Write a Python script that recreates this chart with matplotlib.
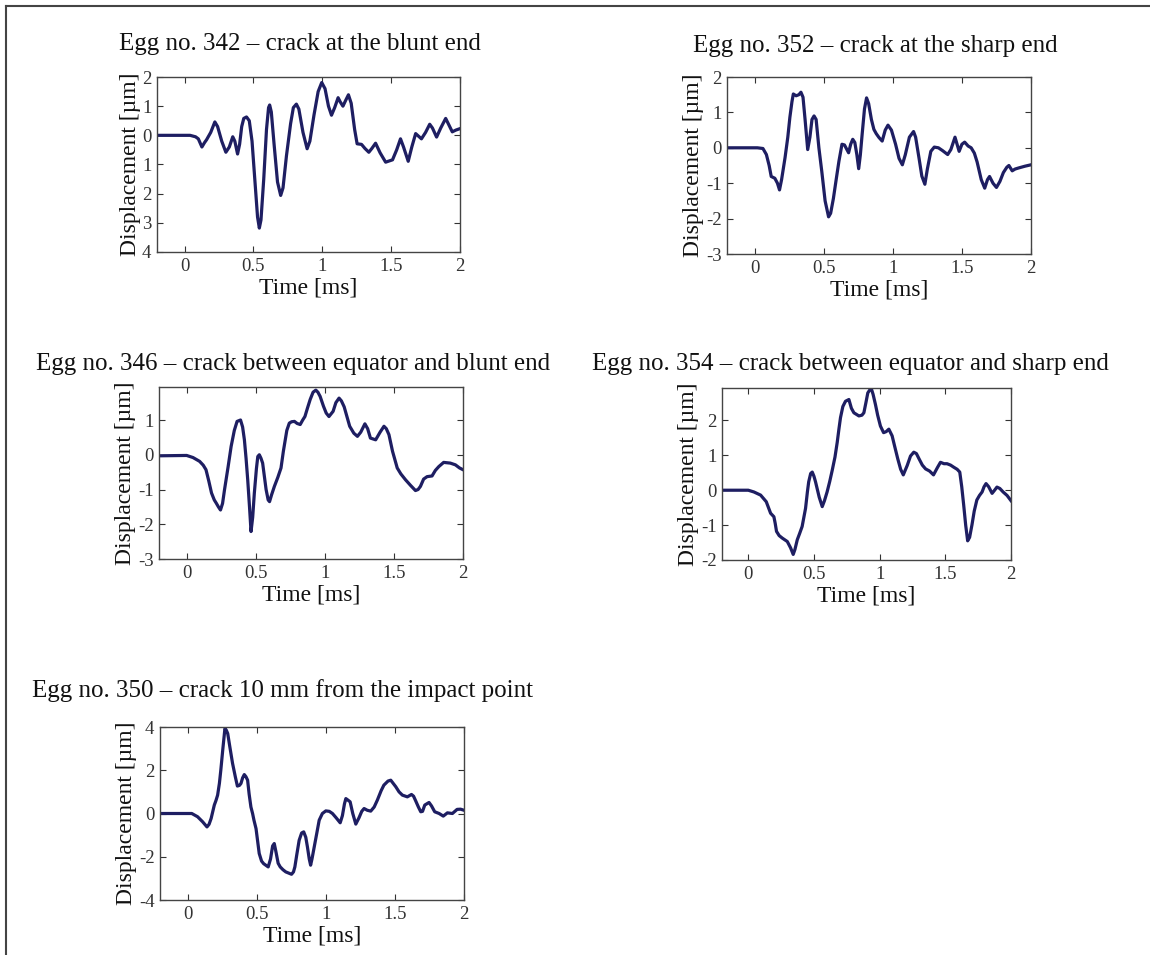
import matplotlib
matplotlib.use("Agg")
import matplotlib.pyplot as plt
from matplotlib.lines import Line2D

plt.rcParams['font.family'] = ['Liberation Serif', 'DejaVu Serif']

# ---------------- data ----------------
t342 = [-0.2, 0.04, 0.08, 0.10, 0.126, 0.145, 0.16, 0.19, 0.22, 0.24, 0.27, 0.30,
        0.325, 0.35, 0.365, 0.385, 0.40, 0.415, 0.43, 0.45, 0.47, 0.49, 0.51, 0.53,
        0.543, 0.555, 0.575, 0.595, 0.61, 0.618, 0.63, 0.65, 0.675, 0.698, 0.715,
        0.74, 0.77, 0.79, 0.812, 0.83, 0.86, 0.89, 0.91, 0.94, 0.97, 0.996, 1.02,
        1.045, 1.067, 1.09, 1.115, 1.13, 1.15, 1.17, 1.19, 1.21, 1.235, 1.253,
        1.285, 1.31, 1.338, 1.36, 1.387, 1.42, 1.46, 1.51, 1.54, 1.568, 1.59,
        1.624, 1.65, 1.678, 1.72, 1.75, 1.78, 1.80, 1.83, 1.86, 1.896, 1.92,
        1.944, 1.97, 2.0]
d342 = [0.0, 0.0, -0.05, -0.12, -0.4, -0.25, -0.15, 0.1, 0.46, 0.3, -0.2, -0.58,
        -0.4, -0.05, -0.2, -0.64, -0.3, 0.3, 0.58, 0.63, 0.5, -0.2, -1.5, -2.8,
        -3.18, -2.9, -1.5, 0.2, 0.95, 1.04, 0.8, -0.3, -1.6, -2.06, -1.8,
        -0.7, 0.4, 0.95, 1.07, 0.9, 0.1, -0.46, -0.2, 0.7, 1.5, 1.81, 1.6,
        1.0, 0.69, 0.95, 1.29, 1.15, 1.0, 1.2, 1.39, 1.1, 0.2, -0.29,
        -0.31, -0.45, -0.58, -0.45, -0.27, -0.6, -0.92, -0.84, -0.5, -0.12, -0.4,
        -0.89, -0.4, 0.06, -0.12, 0.1, 0.38, 0.25, -0.06, 0.25, 0.58, 0.35,
        0.12, 0.18, 0.23]

t352 = [-0.2, 0.02, 0.06, 0.085, 0.105, 0.12, 0.146, 0.165, 0.18, 0.195, 0.22,
        0.24, 0.255, 0.27, 0.28, 0.30, 0.32, 0.335, 0.35, 0.365, 0.384, 0.40,
        0.415, 0.43, 0.445, 0.465, 0.486, 0.51, 0.535, 0.55, 0.57, 0.59, 0.61,
        0.632, 0.65, 0.68, 0.695, 0.71, 0.725, 0.74, 0.753, 0.765, 0.778, 0.795,
        0.81, 0.825, 0.845, 0.863, 0.88, 0.90, 0.923, 0.945, 0.965, 0.99, 1.02,
        1.045, 1.069, 1.09, 1.12, 1.15, 1.165, 1.19, 1.21, 1.232, 1.25, 1.275,
        1.30, 1.33, 1.36, 1.397, 1.42, 1.45, 1.465, 1.48, 1.50, 1.52, 1.545,
        1.567, 1.59, 1.61, 1.64, 1.665, 1.685, 1.70, 1.725, 1.75, 1.775, 1.80,
        1.825, 1.84, 1.864, 1.885, 1.91, 1.956, 2.0]
d352 = [0.0, 0.0, -0.02, -0.19, -0.5, -0.81, -0.86, -1.0, -1.19, -0.9, -0.28,
        0.3, 0.86, 1.3, 1.52, 1.47, 1.5, 1.57, 1.43, 0.8, -0.05, 0.3,
        0.8, 0.90, 0.8, 0.0, -0.67, -1.5, -1.95, -1.85, -1.43, -0.9, -0.38,
        0.10, 0.08, -0.14, 0.1, 0.24, 0.15, -0.2, -0.59, -0.2, 0.38, 1.1,
        1.41, 1.25, 0.8, 0.52, 0.4, 0.29, 0.19, 0.5, 0.64, 0.5, 0.1,
        -0.3, -0.48, -0.2, 0.3, 0.46, 0.3, -0.3, -0.8, -1.03, -0.6, -0.1,
        0.02, 0.0, -0.08, -0.19, -0.05, 0.30, 0.1, -0.1, 0.1, 0.16, 0.05,
        0.0, -0.15, -0.4, -0.9, -1.14, -0.9, -0.81, -1.0, -1.12, -0.95, -0.7,
        -0.55, -0.5, -0.65, -0.6, -0.57, -0.52, -0.48]

t346 = [-0.2, 0.0, 0.046, 0.094, 0.12, 0.14, 0.16, 0.18, 0.20, 0.214, 0.23, 0.245,
        0.26, 0.274, 0.30, 0.322, 0.345, 0.365, 0.39, 0.405, 0.418, 0.43, 0.442,
        0.455, 0.466, 0.478, 0.49, 0.505, 0.515, 0.526, 0.538, 0.55, 0.575, 0.59,
        0.60, 0.615, 0.635, 0.66, 0.683, 0.70, 0.71, 0.725, 0.743, 0.76, 0.78,
        0.80, 0.822, 0.84, 0.856, 0.875, 0.894, 0.915, 0.935, 0.95, 0.966, 0.99,
        1.01, 1.03, 1.06, 1.08, 1.103, 1.12, 1.14, 1.16, 1.18, 1.21, 1.236, 1.26,
        1.29, 1.31, 1.33, 1.368, 1.40, 1.428, 1.445, 1.464, 1.49, 1.524, 1.55,
        1.584, 1.62, 1.656, 1.675, 1.692, 1.715, 1.74, 1.776, 1.80, 1.825, 1.86,
        1.908, 1.945, 1.975, 2.0]
d346 = [-0.03, -0.02, -0.08, -0.19, -0.3, -0.43, -0.75, -1.10, -1.3, -1.39, -1.5,
        -1.59, -1.4, -1.01, -0.35, 0.24, 0.7, 0.96, 1.0, 0.8, 0.43, -0.1, -0.72,
        -1.5, -2.21, -1.8, -1.10, -0.4, -0.05, 0.0, -0.1, -0.24, -1.0, -1.3,
        -1.35, -1.15, -0.91, -0.65, -0.38, 0.1, 0.34, 0.7, 0.91, 0.95, 0.96,
        0.9, 0.87, 1.0, 1.10, 1.35, 1.59, 1.8, 1.86, 1.8, 1.68, 1.4,
        1.2, 1.10, 1.25, 1.5, 1.63, 1.55, 1.38, 1.1, 0.82, 0.62, 0.53, 0.65,
        0.89, 0.75, 0.48, 0.43, 0.65, 0.82, 0.75, 0.58, 0.1, -0.38, -0.55,
        -0.72, -0.88, -1.03, -1.0, -0.91, -0.7, -0.63, -0.61, -0.45, -0.34, -0.22,
        -0.24, -0.29, -0.38, -0.43]

t354 = [-0.2, 0.0, 0.043, 0.094, 0.137, 0.17, 0.195, 0.205, 0.215, 0.235, 0.258,
        0.297, 0.322, 0.342, 0.355, 0.373, 0.39, 0.41, 0.436, 0.45, 0.46, 0.475,
        0.487, 0.50, 0.512, 0.54, 0.563, 0.58, 0.60, 0.62, 0.639, 0.66, 0.677,
        0.69, 0.702, 0.72, 0.74, 0.766, 0.785, 0.804, 0.842, 0.865, 0.88, 0.895,
        0.91, 0.935, 0.95, 0.968, 0.985, 1.006, 1.03, 1.05, 1.07, 1.095, 1.115,
        1.138, 1.16, 1.18, 1.21, 1.235, 1.26, 1.28, 1.30, 1.325, 1.35, 1.38,
        1.41, 1.44, 1.463, 1.49, 1.513, 1.54, 1.564, 1.59, 1.61, 1.625, 1.64,
        1.655, 1.67, 1.685, 1.703, 1.72, 1.74, 1.76, 1.78, 1.795, 1.81, 1.83,
        1.856, 1.875, 1.893, 1.915, 1.94, 1.97, 2.0]
d354 = [0.0, 0.0, -0.05, -0.14, -0.33, -0.66, -0.76, -0.95, -1.18, -1.3, -1.37,
        -1.47, -1.65, -1.84, -1.7, -1.42, -1.25, -1.04, -0.52, -0.05, 0.24, 0.48,
        0.52, 0.4, 0.24, -0.2, -0.47, -0.3, -0.05, 0.25, 0.57, 0.95, 1.37,
        1.75, 2.08, 2.4, 2.55, 2.60, 2.35, 2.22, 2.13, 2.15, 2.22, 2.5,
        2.79, 2.93, 2.75, 2.46, 2.15, 1.84, 1.65, 1.68, 1.75, 1.56, 1.25,
        0.9, 0.6, 0.44, 0.71, 0.98, 1.09, 1.05, 0.9, 0.72, 0.61, 0.55,
        0.44, 0.65, 0.8, 0.76, 0.76, 0.72, 0.66, 0.6, 0.52, 0.1, -0.43,
        -1.0, -1.45, -1.35, -0.99, -0.6, -0.28, -0.15, -0.05, 0.1, 0.19, 0.1,
        -0.09, 0.0, 0.09, 0.05, -0.05, -0.15, -0.30]

t350 = [-0.2, 0.03, 0.072, 0.108, 0.14, 0.155, 0.17, 0.193, 0.205, 0.217, 0.23,
        0.24, 0.255, 0.27, 0.28, 0.29, 0.305, 0.325, 0.345, 0.36, 0.375, 0.386,
        0.398, 0.41, 0.422, 0.434, 0.445, 0.458, 0.47, 0.48, 0.495, 0.507, 0.518,
        0.535, 0.55, 0.583, 0.60, 0.615, 0.627, 0.64, 0.655, 0.67, 0.69, 0.71,
        0.752, 0.766, 0.776, 0.79, 0.807, 0.825, 0.84, 0.855, 0.867, 0.88, 0.89,
        0.90, 0.916, 0.935, 0.952, 0.975, 1.0, 1.025, 1.048, 1.075, 1.104, 1.12,
        1.135, 1.145, 1.16, 1.176, 1.195, 1.217, 1.24, 1.26, 1.277, 1.30, 1.325,
        1.35, 1.373, 1.40, 1.42, 1.45, 1.47, 1.506, 1.53, 1.554, 1.59, 1.62,
        1.635, 1.65, 1.67, 1.687, 1.70, 1.716, 1.747, 1.765, 1.788, 1.82, 1.85,
        1.88, 1.916, 1.95, 1.975, 2.0]
d350 = [0.0, 0.0, -0.15, -0.38, -0.62, -0.5, -0.23, 0.39, 0.6, 0.85, 1.4,
        2.0, 3.0, 3.94, 3.85, 3.7, 3.1, 2.32, 1.7, 1.27, 1.3, 1.39,
        1.65, 1.80, 1.7, 1.54, 0.9, 0.3, 0.0, -0.31, -0.7, -1.3, -1.85,
        -2.2, -2.32, -2.47, -2.1, -1.5, -1.39, -1.8, -2.3, -2.47, -2.6, -2.70,
        -2.81, -2.7, -2.47, -1.9, -1.24, -0.9, -0.85, -1.1, -1.55, -2.1, -2.39,
        -2.1, -1.55, -0.9, -0.31, 0.0, 0.12, 0.1, 0.0, -0.2, -0.43, -0.1,
        0.45, 0.69, 0.62, 0.54, 0.0, -0.49, -0.2, 0.1, 0.23, 0.15, 0.11,
        0.3, 0.62, 1.05, 1.31, 1.5, 1.54, 1.24, 1.0, 0.85, 0.77, 0.88,
        0.8, 0.59, 0.3, 0.08, 0.1, 0.39, 0.51, 0.35, 0.08, 0.0, -0.12,
        0.03, 0.0, 0.19, 0.2, 0.15]

titles = ["Egg no. 342 \u2013 crack at the blunt end",
          "Egg no. 352 \u2013 crack at the sharp end",
          "Egg no. 346 \u2013 crack between equator and blunt end",
          "Egg no. 354 \u2013 crack between equator and sharp end",
          "Egg no. 350 \u2013 crack 10 mm from the impact point"]
xticks = [0, 0.5, 1, 1.5, 2]
xticklabels = ["0", "0.5", "1", "1.5", "2"]
yticks = [[2, 1, 0, -1, -2, -3, -4],
          [2, 1, 0, -1, -2, -3],
          [1, 0, -1, -2, -3],
          [2, 1, 0, -1, -2],
          [4, 2, 0, -2, -4]]
yticklabels = [["2", "1", "0", "1", "2", "3", "4"],
               ["2", "1", "0", "-1", "-2", "-3"],
               ["1", "0", "-1", "-2", "-3"],
               ["2", "1", "0", "-1", "-2"],
               ["4", "2", "0", "-2", "-4"]]
ylims = [(-4, 2), (-3, 2), (-3, 1.95), (-2, 2.93), (-4, 4)]
series = [(t342, d342), (t352, d352), (t346, d346), (t354, d354), (t350, d350)]

# ---------------- layout (pixels) ----------------
W, H = 1150, 955
boxes = [(157, 460, 77, 252), (727, 1031, 77, 254), (159, 463, 387, 559),
         (722, 1011, 388, 560), (160, 464, 727, 900)]
title_pos = [(300, 50), (875, 52), (293, 370), (850, 370), (283, 697)]

fig = plt.figure(figsize=(W / 100, H / 100), dpi=100)
fig.patch.set_facecolor("white")

line_col = "#1e1e62"
for i in range(5):
    l, r, tp, b = boxes[i]
    ax = fig.add_axes([l / W, 1 - b / H, (r - l) / W, (b - tp) / H])
    t, d = series[i]
    ax.plot(t, d, color=line_col, lw=2.3, solid_joinstyle="round")
    ax.set_xlim(-0.2, 2)
    ax.set_ylim(*ylims[i])
    ax.set_xticks(xticks)
    ax.set_xticklabels(xticklabels)
    ax.set_yticks(yticks[i])
    ax.set_yticklabels(yticklabels[i])
    ax.tick_params(direction="in", length=4, width=0.8, top=True, right=True,
                   labelsize=13.5, pad=4, colors="#333333", labelcolor="#333333")
    for s in ax.spines.values():
        s.set_color("#444444")
        s.set_linewidth(1.0)
    ax.set_xlabel("Time [ms]", fontsize=17, labelpad=2, color="#111111")
    ax.set_ylabel("Displacement [\u00b5m]", fontsize=17, labelpad=1, color="#111111")
    tx, ty = title_pos[i]
    fig.text(tx / W, 1 - ty / H, titles[i], fontsize=18, ha="center",
             va="baseline", color="#111111")

# outer frame lines (top and left)
fig.add_artist(Line2D([6 / W, 1.0], [1 - 6 / H, 1 - 6 / H], color="#444444", lw=1.5))
fig.add_artist(Line2D([6 / W, 6 / W], [0.0, 1 - 6 / H], color="#444444", lw=1.5))

fig.savefig("out.png", dpi=100, facecolor="white")
